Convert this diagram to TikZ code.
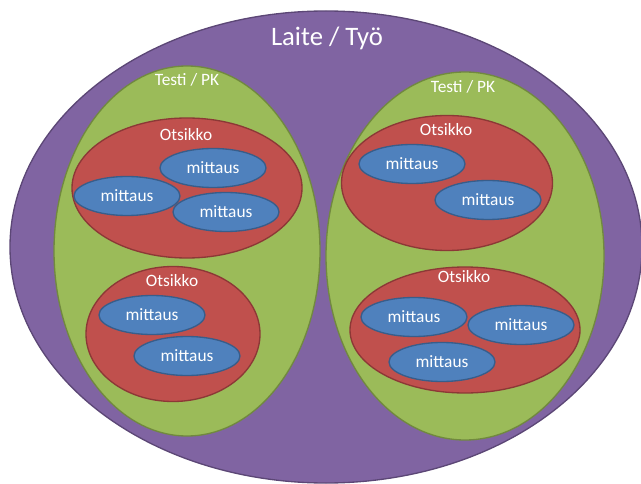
\documentclass[tikz,border=0pt]{standalone}
\usepackage{fontspec}
\setmainfont{Carlito}
\usepackage{tikz}
\usetikzlibrary{shapes.geometric}

\definecolor{laitefill}{HTML}{8064A2}
\definecolor{laiteline}{HTML}{5C4776}
\definecolor{testifill}{HTML}{9BBB59}
\definecolor{testiline}{HTML}{71893F}
\definecolor{otsfill}{HTML}{C0504D}
\definecolor{otsline}{HTML}{8C3836}
\definecolor{mitfill}{HTML}{4F81BD}
\definecolor{mitline}{HTML}{385D8A}

\begin{document}
\begin{tikzpicture}[
    x=0.75pt, y=-0.75pt,
    blob/.style={ellipse, inner sep=0pt, line width=1pt},
    laite/.style={blob, fill=laitefill, draw=laiteline, minimum width=474pt, minimum height=354pt},
    testi/.style={blob, fill=testifill, draw=testiline},
    otsikko/.style={blob, fill=otsfill, draw=otsline},
    mittaus/.style={blob, fill=mitfill, draw=mitline, minimum width=79.5pt, minimum height=29.25pt,
                    text=white, font=\fontsize{13}{15}\selectfont},
    caption/.style={text=white, inner sep=0pt, font=\fontsize{13}{15}\selectfont},
    title/.style={text=white, inner sep=0pt, font=\fontsize{20}{24}\selectfont}
]
\useasboundingbox (0,0) rectangle (641,484);

% Laite / Tyo
\node[laite] (device) at (326,247) {};
\node[title] (devicetxt) at (327,38) {Laite / Työ};

% Testi / PK, left and right
\node[testi, minimum width=199.5pt, minimum height=277.5pt] (testL) at (187,251) {};
\node[testi, minimum width=208.5pt, minimum height=276pt] (testR) at (465,256) {};
\node[caption] (testLtxt) at (187,80) {Testi / PK};
\node[caption] (testRtxt) at (463,87) {Testi / PK};

% Otsikko groups
\node[otsikko, minimum width=172.5pt, minimum height=105pt] (headLT) at (187,188) {};
\node[otsikko, minimum width=130.5pt, minimum height=101.25pt] (headLB) at (173,334) {};
\node[otsikko, minimum width=158.25pt, minimum height=101.25pt] (headRT) at (447,183) {};
\node[otsikko, minimum width=172.5pt, minimum height=94.5pt] (headRB) at (465,330) {};
\node[caption] (headLTtxt) at (186,135) {Otsikko};
\node[caption] (headLBtxt) at (172,281) {Otsikko};
\node[caption] (headRTtxt) at (446,130) {Otsikko};
\node[caption] (headRBtxt) at (464,277) {Otsikko};

% mittaus in upper left group
\node[mittaus] (mLT1) at (213,168) {mittaus};
\node[mittaus] (mLT2) at (127,196) {mittaus};
\node[mittaus] (mLT3) at (226,212) {mittaus};

% mittaus in lower left group
\node[mittaus] (mLB1) at (152,315) {mittaus};
\node[mittaus] (mLB2) at (187,356) {mittaus};

% mittaus in upper right group
\node[mittaus] (mRT1) at (412,164) {mittaus};
\node[mittaus] (mRT2) at (488,200) {mittaus};

% mittaus in lower right group
\node[mittaus] (mRB1) at (414,317) {mittaus};
\node[mittaus] (mRB2) at (521,325) {mittaus};
\node[mittaus] (mRB3) at (442,362) {mittaus};

\end{tikzpicture}
\end{document}
